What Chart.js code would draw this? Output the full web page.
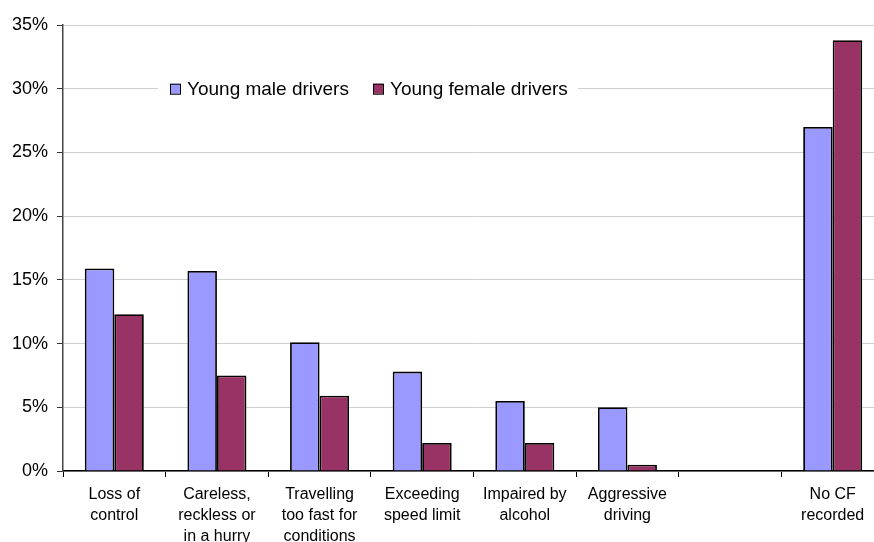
<!DOCTYPE html>
<html>
<head>
<meta charset="utf-8">
<script src="https://cdn.jsdelivr.net/npm/chart.js@4"></script>
<style>
  html, body { margin: 0; padding: 0; background: #fff; overflow: hidden; }
  #wrap { width: 885px; height: 560px; }
</style>
</head>
<body>
<div id="wrap"><canvas id="barChart"></canvas></div>
<script>
var categories = [
    ["Loss of", "control"],
    ["Careless,", "reckless or", "in a hurry"],
    ["Travelling", "too fast for", "conditions"],
    ["Exceeding", "speed limit"],
    ["Impaired by", "alcohol"],
    ["Aggressive", "driving"],
    "",
    ["No CF", "recorded"]
];
var seriesNames = ["Young male drivers", "Young female drivers"];
var maleValues = [15.9, 15.7, 10.1, 7.8, 5.5, 5.0, null, 27.0];
var femaleValues = [12.3, 7.5, 5.9, 2.2, 2.2, 0.5, null, 33.8];
var yTicks = [0, 5, 10, 15, 20, 25, 30, 35];

var FONT = "'Liberation Sans', Arial, sans-serif";
Chart.defaults.font.family = FONT;
Chart.defaults.color = '#000';

// legend drawn inside the plot, on a white strip over the 30% gridline
var insideLegend = {
    id: 'insideLegend',
    afterDraw: function (chart) {
        var ctx = chart.ctx;
        var left = chart.chartArea.left;
        var y = chart.scales.y.getPixelForValue(30);
        ctx.save();
        ctx.fillStyle = '#fff';
        ctx.fillRect(left + 95, y - 11, 420, 22);
        ctx.font = '19px ' + FONT;
        ctx.textBaseline = 'middle';
        var xs = [left + 107, left + 310];
        chart.data.datasets.forEach(function (ds, i) {
            ctx.fillStyle = ds.backgroundColor;
            ctx.fillRect(xs[i], y - 5, 10, 10);
            ctx.strokeStyle = '#000';
            ctx.lineWidth = 1;
            ctx.strokeRect(xs[i] + 0.5, y - 4.5, 10, 10);
            ctx.fillStyle = '#000';
            ctx.fillText(ds.label, xs[i] + 17, y + 1);
        });
        ctx.restore();
    }
};

var ctxB = document.getElementById("barChart").getContext('2d');
var myBarChart = new Chart(ctxB, {
    type: 'bar',
    data: {
        labels: categories,
        datasets: [{
            label: seriesNames[0],
            data: maleValues,
            backgroundColor: '#9999FF',
            borderColor: '#000',
            borderWidth: 1.8
        }, {
            label: seriesNames[1],
            data: femaleValues,
            backgroundColor: '#993366',
            borderColor: '#000',
            borderWidth: 1.8
        }]
    },
    plugins: [insideLegend],
    options: {
        responsive: true,
        maintainAspectRatio: false,
        animation: false,
        layout: { padding: { top: 25, left: 0, right: 1, bottom: 0 } },
        categoryPercentage: 0.575,
        barPercentage: 1.0,
        plugins: {
            legend: { display: false },
            tooltip: { enabled: false }
        },
        scales: {
            x: {
                grid: {
                    offset: true,
                    drawOnChartArea: false,
                    drawTicks: true,
                    tickLength: 6,
                    tickColor: '#000'
                },
                border: { color: '#000', width: 1.5 },
                ticks: {
                    font: { size: 16, lineHeight: 1.32 },
                    padding: 7,
                    maxRotation: 0,
                    autoSkip: false
                },
                afterFit: function (scale) { scale.height = 560 - 471; }
            },
            y: {
                min: 0,
                max: 35,
                afterBuildTicks: function (scale) {
                    scale.ticks = yTicks.map(function (v) { return { value: v }; });
                },
                grid: {
                    color: '#cfcfcf',
                    lineWidth: 1,
                    tickLength: 6,
                    tickColor: '#333'
                },
                border: { color: '#444', width: 1.5 },
                ticks: {
                    font: { size: 18 },
                    padding: 9,
                    callback: function (v) { return v + '%'; }
                },
                afterFit: function (scale) { scale.width = 63; }
            }
        }
    }
});
</script>
</body>
</html>
